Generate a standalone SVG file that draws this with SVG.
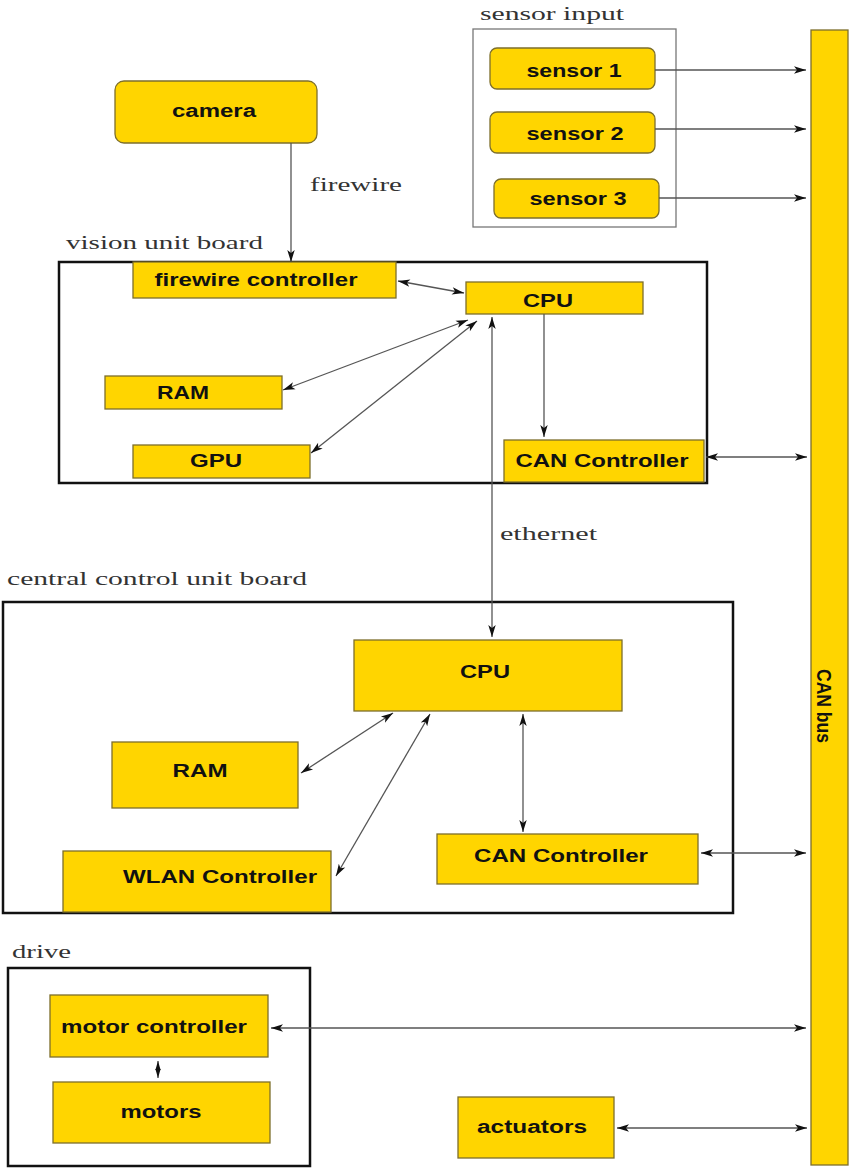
<svg xmlns="http://www.w3.org/2000/svg" width="850" height="1168" viewBox="0 0 850 1168">
<style>
.node{fill:#FFD500;stroke:#7d6f2c;stroke-width:1.3}
.board{fill:none;stroke:#111;stroke-width:2.5}
.grp{fill:none;stroke:#777;stroke-width:1.3}
.nt{font-family:"Liberation Sans",Arial,sans-serif;font-weight:bold;font-size:18px;fill:#111}
.lt{font-family:"Liberation Serif","DejaVu Serif",serif;font-size:19px;fill:#333}
.c{fill:none;stroke:#555;stroke-width:1.3}
</style>
<defs>
<marker id="ah" viewBox="0 0 12 8" refX="12" refY="4" markerWidth="13" markerHeight="8" markerUnits="userSpaceOnUse" orient="auto-start-reverse">
<path d="M0,0.3 L12,4 L0,7.7 L3,4 Z" fill="#111"/>
</marker>
<marker id="ahs" viewBox="0 0 12 8" refX="12" refY="4" markerWidth="9" markerHeight="8" markerUnits="userSpaceOnUse" orient="auto-start-reverse">
<path d="M0,0.5 L12,4 L0,7.5 Z" fill="#111"/>
</marker>
</defs>
<rect x="0" y="0" width="850" height="1168" fill="#fff"/>

<g id="can-bus">
<rect class="node" x="811" y="30" width="37" height="1135"/>
<text class="nt" style="font-size:20px" transform="translate(817,706) rotate(90)" text-anchor="middle" textLength="74" lengthAdjust="spacingAndGlyphs">CAN bus</text>
</g>

<g id="sensor-input">
<rect class="grp" x="473" y="29" width="203" height="198"/>
<text class="lt" x="480" y="20" textLength="144" lengthAdjust="spacingAndGlyphs">sensor input</text>
</g>
<g id="sensor1">
<rect class="node" x="490" y="48" width="165" height="41" rx="7"/>
<text class="nt" x="574" y="77" text-anchor="middle" textLength="95" lengthAdjust="spacingAndGlyphs">sensor 1</text>
</g>
<g id="sensor2">
<rect class="node" x="490" y="112" width="165" height="41" rx="7"/>
<text class="nt" x="575" y="140" text-anchor="middle" textLength="97" lengthAdjust="spacingAndGlyphs">sensor 2</text>
</g>
<g id="sensor3">
<rect class="node" x="494" y="179" width="165" height="39" rx="7"/>
<text class="nt" x="578" y="205" text-anchor="middle" textLength="97" lengthAdjust="spacingAndGlyphs">sensor 3</text>
</g>

<g id="camera">
<rect class="node" x="115" y="81" width="202" height="62" rx="9"/>
<text class="nt" x="214" y="117" text-anchor="middle" textLength="84" lengthAdjust="spacingAndGlyphs">camera</text>
</g>

<g id="vision-unit-board">
<rect class="board" x="59" y="262" width="648" height="221"/>
<text class="lt" x="66" y="249" textLength="197" lengthAdjust="spacingAndGlyphs">vision unit board</text>
</g>
<g id="firewire-controller">
<rect class="node" x="133" y="262" width="263" height="36"/>
<text class="nt" x="256" y="286" text-anchor="middle" textLength="203" lengthAdjust="spacingAndGlyphs">firewire controller</text>
</g>
<g id="vision-cpu">
<rect class="node" x="466" y="282" width="177" height="32"/>
<text class="nt" x="548" y="307" text-anchor="middle" textLength="50" lengthAdjust="spacingAndGlyphs">CPU</text>
</g>
<g id="vision-ram">
<rect class="node" x="105" y="376" width="177" height="33"/>
<text class="nt" x="183" y="399" text-anchor="middle" textLength="52" lengthAdjust="spacingAndGlyphs">RAM</text>
</g>
<g id="gpu">
<rect class="node" x="133" y="445" width="177" height="33"/>
<text class="nt" x="216" y="467" text-anchor="middle" textLength="52" lengthAdjust="spacingAndGlyphs">GPU</text>
</g>
<g id="vision-can-controller">
<rect class="node" x="504" y="440" width="200" height="42"/>
<text class="nt" x="602" y="467" text-anchor="middle" textLength="173" lengthAdjust="spacingAndGlyphs">CAN Controller</text>
</g>

<g id="central-control-unit-board">
<rect class="board" x="3" y="602" width="730" height="311"/>
<text class="lt" x="7" y="585" textLength="300" lengthAdjust="spacingAndGlyphs">central control unit board</text>
</g>
<g id="central-cpu">
<rect class="node" x="354" y="640" width="268" height="71"/>
<text class="nt" x="485" y="678" text-anchor="middle" textLength="50" lengthAdjust="spacingAndGlyphs">CPU</text>
</g>
<g id="central-ram">
<rect class="node" x="112" y="742" width="186" height="66"/>
<text class="nt" x="200" y="777" text-anchor="middle" textLength="55" lengthAdjust="spacingAndGlyphs">RAM</text>
</g>
<g id="wlan-controller">
<rect class="node" x="63" y="851" width="268" height="61"/>
<text class="nt" x="220" y="883" text-anchor="middle" textLength="194" lengthAdjust="spacingAndGlyphs">WLAN Controller</text>
</g>
<g id="central-can-controller">
<rect class="node" x="437" y="834" width="261" height="50"/>
<text class="nt" x="561" y="862" text-anchor="middle" textLength="174" lengthAdjust="spacingAndGlyphs">CAN Controller</text>
</g>

<g id="drive">
<rect class="board" x="8" y="968" width="302" height="198"/>
<text class="lt" x="12" y="958" textLength="59" lengthAdjust="spacingAndGlyphs">drive</text>
</g>
<g id="motor-controller">
<rect class="node" x="50" y="995" width="218" height="62"/>
<text class="nt" x="154" y="1033" text-anchor="middle" textLength="186" lengthAdjust="spacingAndGlyphs">motor controller</text>
</g>
<g id="motors">
<rect class="node" x="53" y="1082" width="217" height="61"/>
<text class="nt" x="161" y="1118" text-anchor="middle" textLength="81" lengthAdjust="spacingAndGlyphs">motors</text>
</g>
<g id="actuators">
<rect class="node" x="458" y="1097" width="156" height="61"/>
<text class="nt" x="532" y="1133" text-anchor="middle" textLength="110" lengthAdjust="spacingAndGlyphs">actuators</text>
</g>

<g id="connectors">
<line class="c" x1="291" y1="143" x2="291" y2="262" marker-end="url(#ah)"/>
<text class="lt" x="310" y="191" textLength="92" lengthAdjust="spacingAndGlyphs">firewire</text>
<line class="c" x1="655" y1="70" x2="806" y2="70" marker-end="url(#ah)"/>
<line class="c" x1="655" y1="129" x2="806" y2="129" marker-end="url(#ah)"/>
<line class="c" x1="659" y1="198" x2="806" y2="198" marker-end="url(#ah)"/>
<line class="c" x1="398" y1="281" x2="464" y2="293" marker-start="url(#ah)" marker-end="url(#ah)"/>
<line class="c" x1="283" y1="390" x2="468" y2="320" marker-start="url(#ah)" marker-end="url(#ah)"/>
<line class="c" x1="311" y1="453" x2="477" y2="321" marker-start="url(#ah)" marker-end="url(#ah)"/>
<line class="c" x1="544" y1="314" x2="544" y2="437" marker-end="url(#ah)"/>
<line class="c" x1="706" y1="457" x2="807" y2="457" marker-start="url(#ah)" marker-end="url(#ah)"/>
<line class="c" x1="492" y1="317" x2="492" y2="637" marker-start="url(#ah)" marker-end="url(#ah)"/>
<text class="lt" x="500" y="540" textLength="97" lengthAdjust="spacingAndGlyphs">ethernet</text>
<line class="c" x1="393" y1="713" x2="301" y2="773" marker-start="url(#ah)" marker-end="url(#ah)"/>
<line class="c" x1="430" y1="714" x2="336" y2="876" marker-start="url(#ah)" marker-end="url(#ah)"/>
<line class="c" x1="523" y1="714" x2="523" y2="832" marker-start="url(#ah)" marker-end="url(#ah)"/>
<line class="c" x1="701" y1="853" x2="806" y2="853" marker-start="url(#ah)" marker-end="url(#ah)"/>
<line class="c" x1="158" y1="1061" x2="158" y2="1078" marker-start="url(#ahs)" marker-end="url(#ahs)"/>
<line class="c" x1="271" y1="1028" x2="806" y2="1028" marker-start="url(#ah)" marker-end="url(#ah)"/>
<line class="c" x1="617" y1="1128" x2="807" y2="1128" marker-start="url(#ah)" marker-end="url(#ah)"/>
</g>
</svg>
